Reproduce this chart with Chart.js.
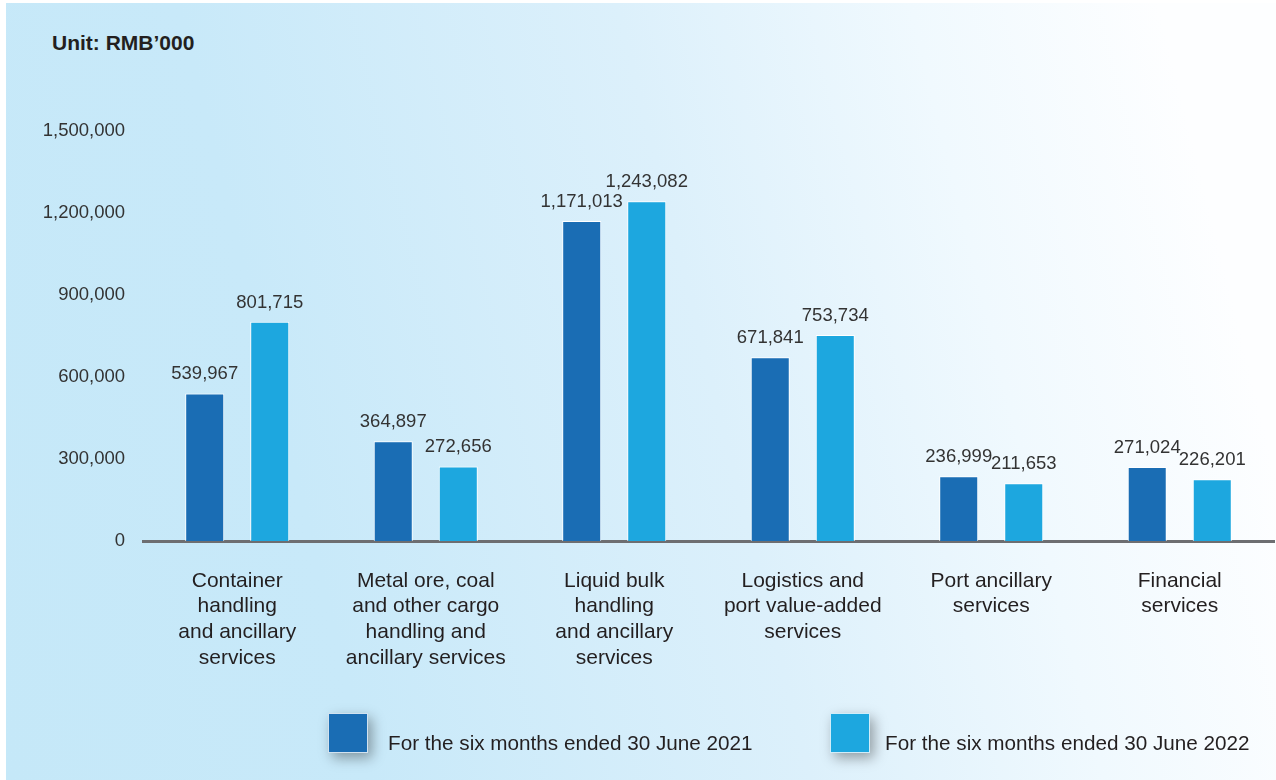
<!DOCTYPE html>
<html>
<head>
<meta charset="utf-8">
<script src="https://cdn.jsdelivr.net/npm/chart.js@4"></script>
<style>
  html, body { margin: 0; padding: 0; background: #ffffff; }
  #wrap { position: relative; width: 1276px; height: 780px; overflow: hidden; }
  #bg { position: absolute; left: 6px; top: 3px; width: 1270px; height: 777px;
        background: linear-gradient(76deg, #c5e8f8 0%, #c8e9f9 25%, #dcf0fb 55%, #f0f9fe 75%, #fdfeff 92%); }
  #unit { position: absolute; left: 52px; top: 31px; font: bold 21px "Liberation Sans", Arial, sans-serif; color: #231f20; }
  canvas { position: absolute; left: 0; top: 0; }
</style>
</head>
<body>
<div id="wrap">
  <div id="bg"></div>
  <div id="unit">Unit: RMB’000</div>
  <canvas id="c" width="1276" height="780"></canvas>
</div>
<script>
const categories = [
  ["Container", "handling", "and ancillary", "services"],
  ["Metal ore, coal", "and other cargo", "handling and", "ancillary services"],
  ["Liquid bulk", "handling", "and ancillary", "services"],
  ["Logistics and", "port value-added", "services"],
  ["Port ancillary", "services"],
  ["Financial", "services"]
];
const series2021 = [539967, 364897, 1171013, 671841, 236999, 271024];
const series2022 = [801715, 272656, 1243082, 753734, 211653, 226201];
const seriesNames = ["For the six months ended 30 June 2021", "For the six months ended 30 June 2022"];
const yTicks = [0, 300000, 600000, 900000, 1200000, 1500000];

const colors = ["#1a6db4", "#1da7df"];
const FONT = '"Liberation Sans", Arial, sans-serif';
const fmt = v => v.toLocaleString('en-US');

const valueLabels = {
  id: 'valueLabels',
  afterDatasetsDraw(chart) {
    const ctx = chart.ctx;
    ctx.save();
    ctx.font = '18.5px ' + FONT;
    ctx.fillStyle = '#333333';
    ctx.textAlign = 'center';
    ctx.textBaseline = 'alphabetic';
    chart.data.datasets.forEach((ds, i) => {
      chart.getDatasetMeta(i).data.forEach((bar, j) => {
        ctx.fillText(fmt(ds.data[j]), bar.x, bar.y - 14);
      });
    });
    ctx.restore();
  }
};

const customLegend = {
  id: 'customLegend',
  afterDraw(chart) {
    const ctx = chart.ctx;
    const items = [{x: 328, tx: 388}, {x: 830, tx: 885}];
    items.forEach((it, i) => {
      ctx.save();
      ctx.shadowColor = 'rgba(0,0,0,0.35)';
      ctx.shadowBlur = 12;
      ctx.shadowOffsetX = 4;
      ctx.shadowOffsetY = 5;
      ctx.fillStyle = '#ffffff';
      ctx.fillRect(it.x, 713, 40, 40);
      ctx.restore();
      ctx.fillStyle = colors[i];
      ctx.fillRect(it.x, 713, 40, 40);
      ctx.strokeStyle = 'rgba(255,255,255,0.8)';
      ctx.lineWidth = 1;
      ctx.strokeRect(it.x + 0.5, 713.5, 39, 39);
      ctx.font = '20.7px ' + FONT;
      ctx.fillStyle = '#231f20';
      ctx.textAlign = 'left';
      ctx.textBaseline = 'middle';
      ctx.fillText(seriesNames[i], it.tx, 744);
    });
  }
};

new Chart(document.getElementById('c'), {
  type: 'bar',
  data: {
    labels: categories,
    datasets: [
      { label: seriesNames[0], data: series2021, backgroundColor: colors[0], borderColor: '#ffffff', borderWidth: 1, borderSkipped: 'bottom' },
      { label: seriesNames[1], data: series2022, backgroundColor: colors[1], borderColor: '#ffffff', borderWidth: 1, borderSkipped: 'bottom' }
    ]
  },
  options: {
    responsive: false,
    animation: false,
    layout: { padding: { top: 131, right: 2, left: 0, bottom: 0 } },
    datasets: { bar: { categoryPercentage: 0.69, barPercentage: 0.6 } },
    plugins: { legend: { display: false }, tooltip: { enabled: false } },
    scales: {
      x: {
        grid: { display: false, drawTicks: false },
        border: { display: true, color: '#6d6e71', width: 3 },
        ticks: {
          color: '#231f20',
          font: { family: FONT, size: 21, lineHeight: 1.225 },
          padding: 27,
          maxRotation: 0,
          autoSkip: false
        },
        afterFit(scale) { scale.height = 239; }
      },
      y: {
        min: 0,
        max: yTicks[yTicks.length - 1],
        grid: { display: false, drawTicks: false },
        border: { display: false },
        afterBuildTicks(scale) { scale.ticks = yTicks.map(v => ({ value: v })); },
        ticks: {
          color: '#333333',
          font: { family: FONT, size: 18.5 },
          padding: 18,
          callback: v => fmt(v)
        },
        afterFit(scale) { scale.width = 143; }
      }
    }
  },
  plugins: [valueLabels, customLegend]
});
</script>
</body>
</html>
